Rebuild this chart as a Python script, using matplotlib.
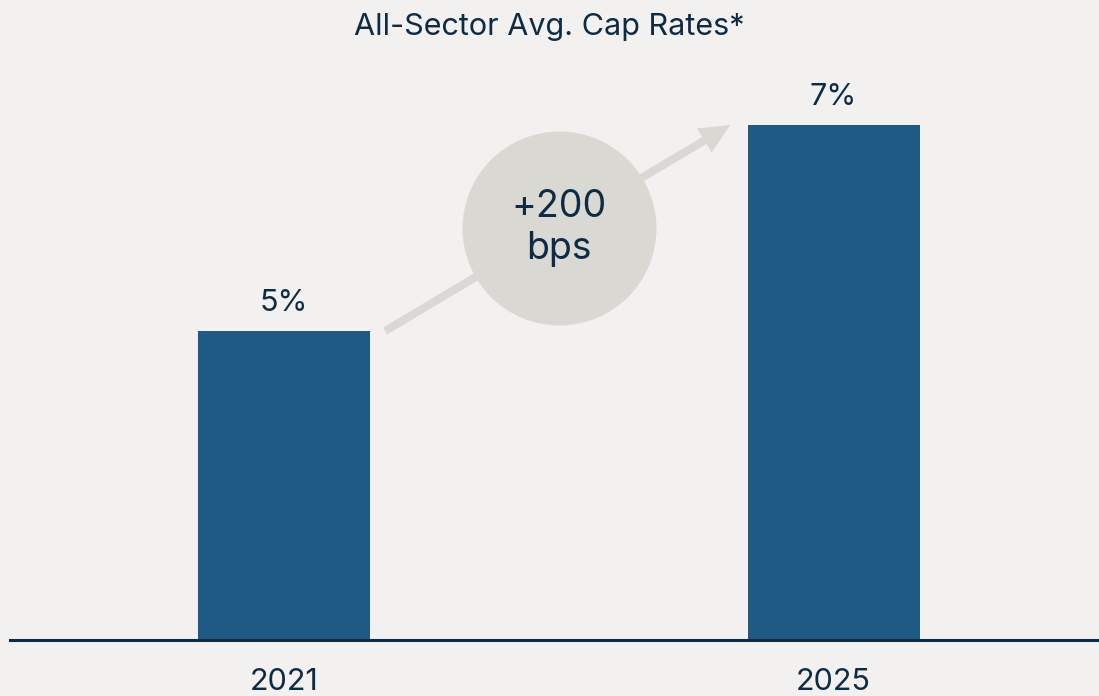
import matplotlib
matplotlib.use("Agg")
import matplotlib.pyplot as plt

categories = ["2021", "2025"]
values = [5, 7]
value_labels = ["5%", "7%"]
title = "All-Sector Avg. Cap Rates*"
change_label = "+200\nbps"

BG = "#F2F1EF"
BAR = "#1F5A85"
TEXT = "#0D2B45"
GREY = "#DAD8D3"

plt.rcParams['font.family'] = ['Inter', 'DejaVu Sans']

fig = plt.figure(figsize=(10.99, 6.96), dpi=100, facecolor=BG)
ax = fig.add_axes([10/1099, 56/696, 1089/1099, 580/696])
ax.set_facecolor(BG)

x = list(range(len(categories)))
ax.bar(x, values, width=0.313, color=BAR, zorder=3)
ax.set_xlim(-0.4987, 1.483)
ax.set_ylim(2, 2 + 580/103)

for xi, v, lab in zip(x, values, value_labels):
    ax.annotate(lab, (xi, v), xytext=(0, 10), textcoords="offset points",
                ha="center", va="bottom", fontsize=22, color=TEXT)

# arrow from bar 1 to bar 2
ax.annotate("", xy=(0.812, values[1]), xytext=(0.184, values[0]),
            arrowprops=dict(arrowstyle="simple,head_length=0.75,head_width=0.7,tail_width=0.2",
                            mutation_scale=29, color=GREY, lw=0,
                            shrinkA=0, shrinkB=0),
            zorder=2)

cx = (x[0] + x[1]) / 2
cy = (values[0] + values[1]) / 2
ax.scatter([cx], [cy], s=19500, color=GREY, zorder=4, linewidths=0)
ax.text(cx, cy, change_label, ha="center", va="center", fontsize=27,
        color=TEXT, linespacing=1.2, zorder=5)

ax.set_xticks(x)
ax.set_xticklabels(categories, fontsize=22, color=TEXT)
ax.tick_params(axis="x", length=0, pad=20)
ax.set_yticks([])
for side in ["left", "right", "top"]:
    ax.spines[side].set_visible(False)
ax.spines["bottom"].set_color(TEXT)
ax.spines["bottom"].set_linewidth(2.2)
ax.spines["bottom"].set_zorder(6)

fig.text(0.5, 1 - 27/696, title, ha="center", va="center", fontsize=22, color=TEXT)

fig.savefig("out.png", dpi=100, facecolor=BG)
